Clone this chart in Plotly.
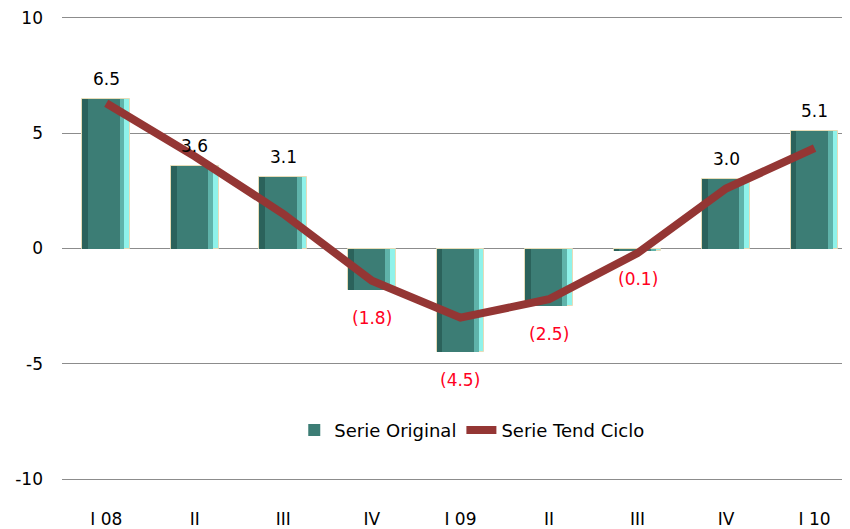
import plotly.graph_objects as go

categories = ["I 08", "II", "III", "IV", "I 09", "II", "III", "IV", "I 10"]
serie_original = [6.5, 3.6, 3.1, -1.8, -4.5, -2.5, -0.1, 3.0, 5.1]
serie_tend_ciclo = [6.3, 4.0, 1.5, -1.4, -3.0, -2.2, -0.2, 2.6, 4.35]
y_ticks = [-10, -5, 0, 5, 10]
y_tick_labels = ["-10", "-5", "0", "5", "10"]

xs = list(range(len(categories)))
FONT = "DejaVu Sans"
FS = 17
W = 0.54

fig = go.Figure()

# bevelled bar look: light base, darker body, dark left edge
fig.add_trace(go.Bar(x=xs, y=serie_original, width=W, offset=-W / 2,
                     marker=dict(color="#8ff2ea", line=dict(color="#e6dcb8", width=1)),
                     showlegend=False, hoverinfo="skip"))
fig.add_trace(go.Bar(x=xs, y=serie_original, width=W * 0.88, offset=-W / 2,
                     marker=dict(color="#5fb3aa", line=dict(width=0)),
                     showlegend=False, hoverinfo="skip"))
fig.add_trace(go.Bar(x=xs, y=serie_original, width=W * 0.78, offset=-W / 2,
                     marker=dict(color="#3c7d75", line=dict(width=0)),
                     name="Serie Original", showlegend=True))
fig.add_trace(go.Bar(x=xs, y=serie_original, width=W * 0.12, offset=-W / 2,
                     marker=dict(color="#2b625b", line=dict(width=0)),
                     showlegend=False, hoverinfo="skip"))

fig.add_trace(go.Scatter(x=xs, y=serie_tend_ciclo, mode="lines",
                         line=dict(color="#943634", width=8),
                         name="Serie Tend Ciclo"))

for x, v in zip(xs, serie_original):
    if v >= 0:
        txt, col, shift = f"{v:.1f}", "#000000", 20
    else:
        txt, col, shift = f"({-v:.1f})", "#ff0022", -28
    fig.add_annotation(x=x, y=v, text=txt, showarrow=False, yshift=shift,
                       font=dict(family=FONT, size=FS, color=col))

fig.update_layout(
    width=842, height=521,
    margin=dict(l=54, r=0, t=8, b=45),
    paper_bgcolor="white", plot_bgcolor="white",
    barmode="overlay", bargap=0,
    font=dict(family=FONT, size=FS, color="#000000"),
    legend=dict(orientation="h", x=0.52, y=0.109, xanchor="center", yanchor="middle",
                bgcolor="rgba(0,0,0,0)", font=dict(family=FONT, size=18),
                traceorder="normal"),
)
fig.update_xaxes(range=[-0.5, 8.4], tickmode="array", tickvals=xs, ticktext=categories,
                 showgrid=False, showline=False, zeroline=False, ticks="",
                 ticklabelstandoff=26, ticklabeloverflow="allow",
                 tickfont=dict(family=FONT, size=FS))
fig.update_yaxes(range=[-10.086, 10.086], tickmode="array", tickvals=y_ticks, ticktext=y_tick_labels,
                 showgrid=True, gridcolor="#8c8c8c", gridwidth=1,
                 zeroline=True, zerolinecolor="#8c8c8c", zerolinewidth=1,
                 showline=False, ticks="", ticklabelstandoff=18, ticklabeloverflow="allow",
                 tickfont=dict(family=FONT, size=FS))

fig.write_html("out.html")
